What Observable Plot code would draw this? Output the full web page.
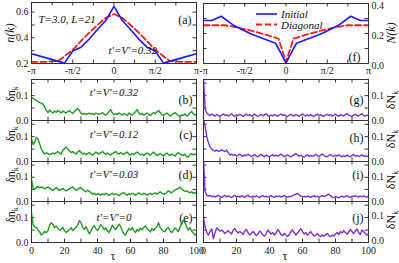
<!DOCTYPE html>
<html><head><meta charset="utf-8">
<script src="https://cdn.jsdelivr.net/npm/d3@7"></script>
<script src="https://cdn.jsdelivr.net/npm/@observablehq/plot@0.6"></script>
<style>
body{margin:0;background:#fff;}
#chart{position:relative;width:399px;height:263px;overflow:hidden;font-family:"Liberation Serif",serif;background:#fff;}
#chart svg{position:absolute;overflow:visible;}
</style></head><body><div id="chart"></div><script>
// ---- data ----
const kInitA = [-1,-0.8,-0.6,-0.5,-0.4,-0.3,-0.2,-0.1,0,0.1,0.2,0.3,0.4,0.5,0.6,0.8,1];
const nInitA = [0.276,0.240,0.203,0.297,0.327,0.390,0.465,0.535,0.645,0.535,0.465,0.390,0.327,0.297,0.203,0.240,0.276];
const kDiagA = [-1,-0.8,-0.67,-0.5,-0.4,-0.3,-0.2,-0.1,0,0.1,0.2,0.3,0.4,0.5,0.67,0.8,1];
const nDiagA = [0.213,0.213,0.222,0.305,0.375,0.440,0.500,0.555,0.585,0.555,0.500,0.440,0.375,0.305,0.222,0.213,0.213];
const kInitF = [-1,-0.9,-0.785,-0.63,-0.43,-0.27,-0.127,-0.067,0,0.067,0.127,0.27,0.43,0.63,0.785,0.9,1];
const NInitF = [0.287,0.287,0.315,0.253,0.198,0.165,0.135,0.075,0.003,0.075,0.135,0.165,0.198,0.253,0.315,0.287,0.287];
const kDiagF = [-1,-0.75,-0.63,-0.43,-0.23,-0.09,0,0.09,0.23,0.43,0.63,0.75,1];
const NDiagF = [0.255,0.255,0.245,0.220,0.190,0.165,0.010,0.165,0.190,0.220,0.245,0.255,0.255];

const tau = d3.range(0, 101, 1);
const dnB = [0.093,0.088,0.085,0.080,0.075,0.072,0.070,0.066,0.055,0.040,0.032,
0.042,0.035,0.030,0.038,0.033,0.040,0.036,0.030,0.038,0.034,
0.030,0.036,0.040,0.033,0.028,0.037,0.042,0.048,0.040,0.030,
0.026,0.028,0.025,0.027,0.030,0.026,0.028,0.024,0.030,0.027,
0.025,0.028,0.032,0.026,0.022,0.028,0.035,0.044,0.030,0.024,
0.027,0.024,0.030,0.026,0.022,0.028,0.025,0.020,0.030,0.026,
0.022,0.028,0.035,0.044,0.030,0.024,0.028,0.022,0.026,0.030,
0.024,0.020,0.026,0.032,0.028,0.035,0.040,0.032,0.024,0.020,
0.026,0.030,0.024,0.018,0.022,0.028,0.032,0.025,0.020,0.016,
0.022,0.020,0.026,0.018,0.022,0.030,0.036,0.028,0.022,0.025];
const dnC = [0.090,0.068,0.080,0.097,0.090,0.070,0.050,0.038,0.030,0.035,0.032,
0.028,0.030,0.034,0.030,0.036,0.040,0.034,0.030,0.045,0.052,
0.058,0.050,0.042,0.036,0.040,0.034,0.030,0.038,0.044,0.036,
0.030,0.034,0.028,0.032,0.036,0.030,0.026,0.032,0.038,0.034,
0.030,0.036,0.040,0.034,0.028,0.034,0.030,0.026,0.032,0.036,
0.040,0.034,0.030,0.036,0.032,0.028,0.034,0.038,0.030,0.026,
0.032,0.028,0.034,0.038,0.032,0.027,0.030,0.024,0.030,0.034,
0.030,0.026,0.032,0.038,0.030,0.024,0.028,0.032,0.026,0.022,
0.030,0.034,0.028,0.024,0.030,0.026,0.022,0.030,0.036,0.030,
0.026,0.024,0.030,0.020,0.018,0.028,0.032,0.026,0.030,0.028];
const dnD = [0.090,0.055,0.050,0.058,0.062,0.056,0.060,0.058,0.052,0.056,0.060,
0.055,0.050,0.045,0.052,0.058,0.050,0.046,0.050,0.054,0.048,
0.044,0.048,0.052,0.056,0.060,0.052,0.046,0.050,0.055,0.058,
0.050,0.044,0.040,0.046,0.042,0.036,0.030,0.034,0.028,0.032,
0.030,0.026,0.032,0.028,0.034,0.030,0.025,0.030,0.034,0.028,
0.032,0.028,0.024,0.030,0.034,0.036,0.030,0.026,0.032,0.028,
0.034,0.030,0.026,0.030,0.036,0.032,0.028,0.034,0.030,0.026,
0.030,0.034,0.028,0.032,0.036,0.030,0.034,0.040,0.034,0.030,
0.032,0.038,0.044,0.040,0.036,0.042,0.048,0.050,0.054,0.060,
0.052,0.046,0.042,0.044,0.040,0.036,0.040,0.034,0.036,0.038];
const dnE = [0.120,0.070,0.064,0.060,0.050,0.042,0.030,0.036,0.044,0.040,0.048,
0.070,0.080,0.072,0.060,0.066,0.058,0.050,0.054,0.060,0.048,
0.040,0.046,0.052,0.060,0.048,0.056,0.060,0.070,0.088,0.080,
0.060,0.052,0.064,0.050,0.035,0.044,0.060,0.068,0.056,0.048,
0.060,0.072,0.064,0.052,0.058,0.046,0.040,0.054,0.070,0.060,
0.052,0.062,0.074,0.066,0.046,0.034,0.030,0.044,0.056,0.050,
0.060,0.048,0.040,0.052,0.046,0.058,0.050,0.060,0.066,0.056,
0.050,0.042,0.056,0.048,0.058,0.062,0.080,0.060,0.052,0.045,
0.044,0.056,0.060,0.046,0.040,0.050,0.058,0.052,0.044,0.062,
0.076,0.090,0.080,0.064,0.050,0.060,0.046,0.040,0.030,0.034];
const dNG = [0.170,0.045,0.030,0.024,0.020,0.026,0.022,0.018,0.024,0.020,0.017,
0.022,0.026,0.020,0.024,0.018,0.022,0.027,0.021,0.017,0.023,
0.019,0.025,0.021,0.016,0.022,0.026,0.020,0.024,0.018,0.022,
0.026,0.020,0.016,0.021,0.024,0.019,0.023,0.027,0.020,0.017,
0.022,0.019,0.024,0.021,0.017,0.023,0.026,0.020,0.024,0.019,
0.016,0.022,0.025,0.020,0.018,0.024,0.021,0.017,0.022,0.026,
0.021,0.018,0.023,0.019,0.024,0.020,0.016,0.022,0.026,0.020,
0.023,0.019,0.017,0.022,0.025,0.020,0.024,0.018,0.021,0.026,
0.020,0.017,0.023,0.021,0.018,0.024,0.028,0.022,0.019,0.016,
0.022,0.025,0.020,0.018,0.023,0.027,0.021,0.018,0.022,0.020];
const dNH = [0.170,0.140,0.100,0.075,0.058,0.050,0.045,0.042,0.046,0.040,0.043,
0.047,0.044,0.040,0.046,0.036,0.026,0.030,0.024,0.028,0.022,
0.026,0.030,0.024,0.021,0.027,0.023,0.029,0.025,0.020,0.024,
0.028,0.022,0.019,0.025,0.029,0.023,0.020,0.026,0.022,0.018,
0.024,0.028,0.022,0.026,0.021,0.025,0.030,0.024,0.020,0.023,
0.027,0.022,0.019,0.024,0.028,0.032,0.026,0.022,0.025,0.021,
0.018,0.023,0.027,0.021,0.025,0.020,0.024,0.029,0.023,0.020,
0.026,0.030,0.024,0.021,0.019,0.024,0.028,0.023,0.020,0.025,
0.022,0.027,0.023,0.019,0.024,0.020,0.026,0.022,0.019,0.024,
0.028,0.022,0.025,0.020,0.023,0.027,0.021,0.024,0.020,0.023];
const dNI = [0.170,0.040,0.026,0.022,0.025,0.020,0.023,0.018,0.022,0.026,0.020,
0.017,0.021,0.025,0.019,0.023,0.020,0.016,0.022,0.025,0.019,
0.022,0.018,0.024,0.020,0.017,0.023,0.026,0.020,0.018,0.022,
0.019,0.023,0.020,0.016,0.021,0.024,0.019,0.022,0.018,0.021,
0.024,0.019,0.017,0.022,0.020,0.023,0.018,0.021,0.025,0.020,
0.018,0.022,0.019,0.024,0.027,0.030,0.033,0.028,0.022,0.019,
0.021,0.018,0.022,0.020,0.017,0.021,0.024,0.019,0.022,0.018,
0.021,0.025,0.020,0.023,0.027,0.030,0.024,0.018,0.016,0.020,
0.018,0.015,0.019,0.022,0.018,0.021,0.024,0.019,0.017,0.022,
0.020,0.024,0.021,0.018,0.022,0.019,0.023,0.020,0.018,0.021];
const dNJ = [0.100,0.060,0.040,0.030,0.045,0.055,0.015,0.040,0.058,0.052,0.046,
0.050,0.044,0.036,0.042,0.048,0.040,0.034,0.050,0.056,0.045,
0.038,0.044,0.040,0.032,0.046,0.052,0.040,0.030,0.036,0.044,
0.038,0.028,0.034,0.046,0.040,0.030,0.026,0.036,0.050,0.042,
0.034,0.040,0.030,0.038,0.052,0.044,0.032,0.028,0.036,0.030,
0.024,0.032,0.044,0.050,0.040,0.030,0.038,0.048,0.056,0.044,
0.034,0.040,0.030,0.036,0.044,0.034,0.026,0.030,0.036,0.028,
0.024,0.030,0.026,0.032,0.036,0.028,0.024,0.030,0.026,0.034,
0.040,0.032,0.044,0.038,0.048,0.040,0.034,0.042,0.052,0.044,
0.036,0.046,0.054,0.040,0.032,0.050,0.044,0.036,0.030,0.034];

const piTicks = [-1,-0.5,0,0.5,1];
const piLabels = ["-π","-π/2","0","π/2","π"];
const piMinor = [-0.75,-0.5,-0.25,0,0.25,0.5,0.75];
const nTicks = [0.2,0.4,0.6];
const nMinor = [0.3,0.4,0.5,0.6];
const NTicks = [0,0.2,0.4];
const NMinor = [0.1,0.2,0.3];
const tauTicks = [0,20,40,60,80,100];
const tauMinor = [10,20,30,40,50,60,70,80,90];
const dTicks = [0,0.1];
const dMinor = [0.05,0.1,0.15];
const paramsLeft = ["t'=V'=0.32","t'=V'=0.12","t'=V'=0.03","t'=V'=0"];
const lettersLeft = ["(b)","(c)","(d)","(e)"];
const lettersRight = ["(g)","(h)","(i)","(j)"];
const seriesLeft = [dnB, dnC, dnD, dnE];
const seriesRight = [dNG, dNH, dNI, dNJ];

// ---- styles ----
const BLUE = "#1a1aff", RED = "#ff1a1a", GREEN = "#1e9b1e", PURPLE = "#7f2fd2", AX = "#333";
const chart = document.getElementById("chart");

function panel(o){
  const mL=32,mR=32,mT=6,mB=22;
  const fw=o.fw, fh=o.fh;
  const marks=[
    Plot.tickX(o.xMinor,{x:d=>d,insetTop:fh-3.5,stroke:AX}),
    Plot.tickX(o.xMinor,{x:d=>d,insetBottom:fh-3.5,stroke:AX}),
    Plot.tickY(o.yMinor,{y:d=>d,insetRight:fw-3.5,stroke:AX}),
    Plot.tickY(o.yMinor,{y:d=>d,insetLeft:fw-3.5,stroke:AX}),
    Plot.axisY(o.yLabels,{anchor:o.yAnchor,tickSize:0,tickPadding:3,label:null,fontSize:10,dy:o.yDy||0}),
    ...o.marks,
    Plot.frame({stroke:AX})
  ];
  if(o.xLabels) marks.push(Plot.axisX(o.xLabels,{anchor:"bottom",tickSize:0,tickPadding:o.xPad||3,label:null,fontSize:10,tickFormat:o.xFormat}));
  const p = Plot.plot({
    width: fw+mL+mR, height: fh+mT+mB,
    marginLeft:mL, marginRight:mR, marginTop:mT, marginBottom:mB,
    style:{fontFamily:"Liberation Serif, serif",fontSize:"10px",color:"#222",background:"transparent",overflow:"visible"},
    x:{domain:o.xDomain,axis:null},
    y:{domain:o.yDomain,axis:null},
    marks
  });
  p.style.left=(o.fx-mL)+"px"; p.style.top=(o.fy-mT)+"px";
  chart.append(p);
}

const LX=31, RX=203, FW=165;

// (a)
panel({fx:LX, fy:2, fw:FW, fh:61, xDomain:[-1,1], yDomain:[0.2,0.675],
  xMinor:piMinor, yMinor:nMinor, yLabels:nTicks, yAnchor:"left",
  xLabels:piTicks, xFormat:(d,i)=>piLabels[i],
  marks:[
    Plot.line(nDiagA,{x:kDiagA,y:d=>d,stroke:RED,strokeWidth:1.8,strokeDasharray:"6,3"}),
    Plot.line(nInitA,{x:kInitA,y:d=>d,stroke:BLUE,strokeWidth:1.6}),
    Plot.text(["T=3.0, L=21"],{frameAnchor:"top-left",dx:7,dy:13,textAnchor:"start",fontStyle:"italic",fontSize:11,fill:"#111"}),
    Plot.text(["(a)"],{frameAnchor:"top-right",dx:-5,dy:13,textAnchor:"end",fontSize:12,fill:"#111"}),
    Plot.text([paramsLeft[0]],{frameAnchor:"top-left",dx:77,dy:44,textAnchor:"start",fontStyle:"italic",fontSize:11,fill:"#111"})
  ]});
// (f)
panel({fx:RX, fy:3, fw:FW, fh:60, xDomain:[-1,1], yDomain:[0,0.4],
  xMinor:piMinor, yMinor:NMinor, yLabels:NTicks, yAnchor:"right", yDy:2,
  xLabels:piTicks, xFormat:(d,i)=>piLabels[i],
  marks:[
    Plot.line(NDiagF,{x:kDiagF,y:d=>d,stroke:RED,strokeWidth:1.8,strokeDasharray:"6,3"}),
    Plot.line(NInitF,{x:kInitF,y:d=>d,stroke:BLUE,strokeWidth:1.6}),
    Plot.text(["(f)"],{frameAnchor:"top-right",dx:-8,dy:49,textAnchor:"end",fontSize:12,fill:"#111"})
  ]});

const rowsY = [79,120,161,201];
const rowsH = [41,41,40,41];
const paramDy = [9,10,9,11.5];
const letterDyL = [16,10,9,11.5];
const letterDyR = [16,13,9,11.5];
for(let r=0;r<4;r++){
  const last = r===3;
  panel({fx:LX, fy:rowsY[r], fw:FW, fh:rowsH[r], xDomain:[0,100], yDomain:[0,0.165],
    xMinor:tauMinor, yMinor:dMinor, yLabels:dTicks, yAnchor:"left",
    xLabels:last?tauTicks:null, xPad:4,
    marks:[
      Plot.line(seriesLeft[r],{x:tau,y:d=>d,stroke:GREEN,strokeWidth:1.4,clip:true}),
      Plot.text([paramsLeft[r]],{frameAnchor:"top",dy:paramDy[r],fontStyle:"italic",fontSize:11,fill:"#111"}),
      Plot.text([lettersLeft[r]],{frameAnchor:"top-right",dx:-4,dy:letterDyL[r],textAnchor:"end",fontSize:12,fill:"#111"})
    ]});
  panel({fx:RX, fy:rowsY[r], fw:FW, fh:rowsH[r], xDomain:[0,100], yDomain:[0,0.165],
    xMinor:tauMinor, yMinor:dMinor, yLabels:dTicks, yAnchor:"right", yDy:last?-1.5:0,
    xLabels:last?tauTicks:null, xPad:4,
    marks:[
      Plot.line(seriesRight[r],{x:tau,y:d=>d,stroke:PURPLE,strokeWidth:1.4,clip:true}),
      Plot.text([lettersRight[r]],{frameAnchor:"top-right",dx:-5,dy:letterDyR[r],textAnchor:"end",fontSize:12,fill:"#111"})
    ]});
}

// ---- overlay labels ----
const ov = d3.select(chart).append("svg").attr("width",399).attr("height",263)
  .style("left","0px").style("top","0px").style("font-family","Liberation Serif, serif").attr("fill","#111");
function vlabel(x,y,parts){
  const t = ov.append("text").attr("transform",`translate(${x},${y}) rotate(-90)`)
    .attr("text-anchor","middle").attr("dominant-baseline","central").attr("font-size",12);
  parts.forEach(p=>{
    const s=t.append("tspan").text(p.t);
    if(p.i) s.attr("font-style","italic");
    if(p.sub) s.attr("baseline-shift","sub").attr("font-size",8);
  });
}
vlabel(10,33,[{t:"n(k)",i:true}]);
vlabel(391,33,[{t:"N(k)",i:true}]);
const leftLabY=[94,134,175,215], rightLabY=[100,139,180,220];
leftLabY.forEach(y=>vlabel(11,y,[{t:"δn"},{t:"k",sub:true}]));
rightLabY.forEach(y=>vlabel(391,y,[{t:"δN"},{t:"k",sub:true}]));
ov.append("text").attr("x",113).attr("y",260).attr("text-anchor","middle").attr("font-size",12).text("τ");
ov.append("text").attr("x",285).attr("y",260).attr("text-anchor","middle").attr("font-size",12).text("τ");
// legend (f)
ov.append("line").attr("x1",256).attr("x2",277).attr("y1",14).attr("y2",14).attr("stroke",BLUE).attr("stroke-width",1.6);
ov.append("line").attr("x1",256).attr("x2",277).attr("y1",24.5).attr("y2",24.5).attr("stroke",RED).attr("stroke-width",1.8).attr("stroke-dasharray","6,3");
ov.append("text").attr("x",281).attr("y",14).attr("dominant-baseline","central").attr("font-size",11).attr("font-style","italic").text("Initial");
ov.append("text").attr("x",281).attr("y",24.5).attr("dominant-baseline","central").attr("font-size",11).attr("font-style","italic").text("Diagonal");
</script></body></html>
